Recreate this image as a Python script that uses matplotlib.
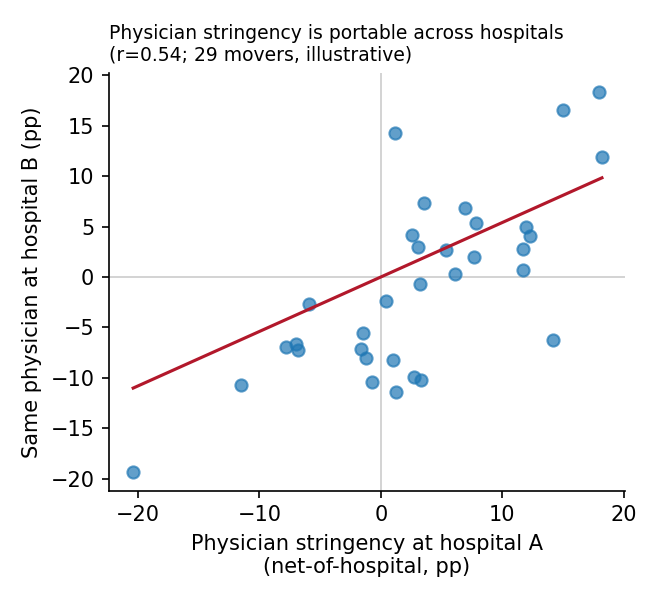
import numpy as np
import matplotlib
matplotlib.use("Agg")
import matplotlib.pyplot as plt

# physician stringency (net-of-hospital, pp) at hospital A vs hospital B
hosp_a = [1.18, 15.0, 17.94, 18.2, 3.57, 6.94, 7.82, 11.96, 12.3, 2.55, 3.07,
          5.32, 11.69, 7.68, 6.12, 11.74,
          -5.93, -7.82, -7.02, -6.8, -1.45, -1.62, -1.23, -0.77, -11.55, -20.4,
          3.24, 0.44, 14.16, 0.99, 2.69, 3.29, 1.26]
hosp_b = [14.3, 16.57, 18.36, 11.9, 7.36, 6.8, 5.3, 5.0, 4.1, 4.13, 2.94,
          2.64, 2.74, 2.02, 0.3, 0.66,
          -2.67, -6.99, -6.63, -7.29, -5.58, -7.16, -8.05, -10.43, -10.76, -19.34,
          -0.72, -2.34, -6.27, -8.25, -9.93, -10.23, -11.45]
fit_slope = 0.54
fit_intercept = 0.0

x = np.array(hosp_a)
y = np.array(hosp_b)

fig = plt.figure(figsize=(4.4, 4.0), dpi=150)
ax = fig.add_axes([0.165, 0.182, 0.782, 0.696])

ax.axhline(0, color="#cccccc", lw=0.8, zorder=0)
ax.axvline(0, color="#cccccc", lw=0.8, zorder=0)

ax.scatter(x, y, s=34, color="#1f77b4", alpha=0.7, zorder=2)

xs = np.array([x.min(), x.max()])
ax.plot(xs, fit_intercept + fit_slope * xs, color="#b2182b", lw=1.5, zorder=3)

ax.set_xlim(-22.4, 20.1)
ax.set_ylim(-21.2, 20.2)
ax.set_xticks([-20, -10, 0, 10, 20])
ax.set_yticks(np.arange(-20, 21, 5))
ax.tick_params(labelsize=10)

ax.spines["top"].set_visible(False)
ax.spines["right"].set_visible(False)

ax.set_xlabel("Physician stringency at hospital A\n(net-of-hospital, pp)", fontsize=10)
ax.set_ylabel("Same physician at hospital B (pp)", fontsize=10)
ax.set_title("Physician stringency is portable across hospitals\n(r=0.54; 29 movers, illustrative)",
             loc="left", fontsize=9, pad=6)

fig.savefig("out.png", dpi=150)
